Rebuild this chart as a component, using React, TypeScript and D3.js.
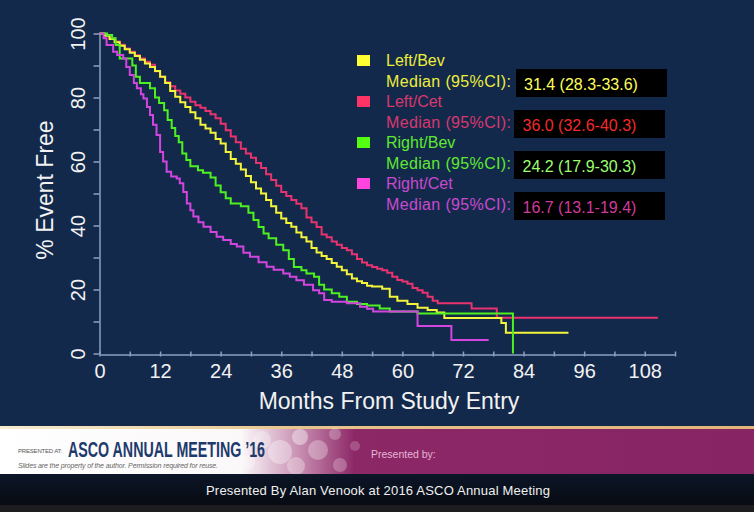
import React, { useEffect, useRef } from 'react';
import * as d3 from 'd3';

// Kaplan-Meier step points: [months, % event free]
const leftBev: [number, number][] = [
  [0, 100], [1, 99.3], [2, 98.3], [3, 97.3], [4, 96.2], [5, 95.1], [6, 94], [7, 93], [8, 91.8], [9, 90.6],
  [10, 89.5], [11, 88.3], [12, 86.5], [13, 84.5], [14, 82], [15, 80.2], [16, 78.5], [17, 77], [18, 75.4],
  [19, 73.5], [20, 71.5], [21, 70.3], [22, 69], [23, 67], [24, 65.6], [25, 63], [26, 60.8], [27, 59.3],
  [28, 57.5], [29, 55.5], [30, 53.5], [31, 51.6], [32, 50], [33, 48], [34, 46], [35, 44], [36, 42.2],
  [37, 40.8], [38, 39.6], [39, 37.8], [40, 36.3], [41, 35], [42, 33], [43, 31.6], [44, 30.5], [45, 29.5],
  [46, 28.3], [47, 27.1], [48, 26], [49, 24.8], [50, 23.4], [51, 22.6], [52, 22], [53, 21.2], [54, 20.9],
  [56, 20.2], [57.5, 17.7], [59, 16.5], [61, 15.5], [63, 14.3], [65, 13.6], [66.8, 12.8], [68.3, 11.1],
  [79.6, 9.5], [80.5, 6.5], [92.9, 6.5],
];

const leftCet: [number, number][] = [
  [0, 100], [1, 99.5], [2, 98.5], [3, 97.5], [4, 96.5], [5, 95.3], [6, 94.3], [7, 93.2], [8, 92.2], [9, 91.2],
  [10, 90.2], [11, 88.2], [12, 86.5], [13, 84.8], [14, 83.5], [15, 82.2], [16, 81.2], [17, 80], [18, 78.7],
  [19, 77.6], [20, 76.8], [21, 75.8], [22, 74.8], [23, 73.5], [24, 71.8], [25, 69.8], [26, 67.8], [27, 66],
  [28, 64], [29, 62.5], [30, 61.2], [31, 59.5], [32, 58], [33, 56], [34, 54.2], [35, 52.4], [36, 50.5],
  [37, 49.2], [38, 48], [39, 46.8], [40, 45.4], [41, 42.5], [42, 41], [43, 39.5], [44, 37.2], [45, 36.3],
  [46, 35], [47, 34], [48, 33], [49, 32.3], [50, 31], [51, 29.5], [52, 28.4], [53, 27.6], [54, 27], [55, 26.5],
  [56, 26], [57, 25.2], [58, 24], [59, 23], [60, 22.5], [61, 21.8], [62, 20.5], [63, 19.8], [64, 19],
  [65, 17.7], [66, 16.5], [67, 15.7], [73.7, 14.1], [78.7, 11.2], [110.6, 11.2],
];

const rightBev: [number, number][] = [
  [0, 100], [1.5, 99.5], [2.5, 98.5], [3.2, 96.4], [4, 92.2], [6.5, 90], [7.2, 86.5], [8, 84.5], [10, 82.9],
  [11, 80], [11.8, 78.3], [12.8, 76], [13.5, 73], [14.3, 70.5], [15, 68], [15.7, 66], [16.4, 62.5], [17.2, 60.5],
  [18, 58.5], [19.5, 57.3], [20.5, 56.5], [22, 55], [23, 52.5], [24, 50.4], [25, 48.5], [26, 46.9], [28, 46],
  [29.5, 44], [30.5, 41.7], [31.5, 39.5], [32.5, 37.5], [33.5, 36], [35, 34], [36.4, 32.3], [37.5, 29.5],
  [38.5, 27], [40, 26], [41, 25], [42.5, 24], [43.5, 21.5], [44.5, 20], [46, 18.8], [47.5, 17.7], [49, 16.2],
  [51, 15.5], [53, 15], [55.5, 14.1], [57.5, 13.1], [63, 12.5], [81.9, 0], [81.9, 0],
];

const rightCet: [number, number][] = [
  [0, 100], [0.8, 98.5], [1.4, 96.4], [2.7, 94.3], [3.5, 93.3], [4.7, 92.2], [5.3, 89.5], [6, 87], [6.8, 84.5],
  [7.4, 82.9], [8.2, 81], [8.7, 79.7], [9.4, 77], [10, 74.5], [10.6, 71.5], [11.3, 68.3], [12, 63], [12.6, 60],
  [13.3, 56.8], [14.2, 55.3], [15.3, 54.7], [15.9, 53.2], [16.6, 50.5], [17.3, 46.9], [18, 44.8], [18.6, 42.8],
  [19.6, 41], [20.6, 39.6], [22, 38], [23.2, 36.5], [24.5, 35.5], [26, 34.2], [27.2, 33.4], [28.5, 31.5],
  [29.8, 30.2], [31.5, 28.5], [33.1, 27.1], [34.5, 26.2], [36.4, 25], [37.7, 24], [39, 22.9], [40.5, 21.5],
  [42.3, 19.8], [43.5, 18.8], [44.5, 16.7], [46, 16.2], [49, 15.7], [51.6, 14.6], [53, 14], [54.2, 13.1],
  [63, 8.6], [69.7, 4.2], [77.1, 4.2],
];

const seriesNames = ['Left/Bev', 'Left/Cet', 'Right/Bev', 'Right/Cet'];
const medianLabels = ['31.4 (28.3-33.6)', '36.0 (32.6-40.3)', '24.2 (17.9-30.3)', '16.7 (13.1-19.4)'];
const xTicks = [0, 12, 24, 36, 48, 60, 72, 84, 96, 108];
const yTicks = [0, 20, 40, 60, 80, 100];

const lineColors = ['#f4f43a', '#e8336e', '#4ef020', '#d245de'];
const swatchColors = ['#ffff33', '#ff3366', '#55ff11', '#ff44e0'];
const textColors = ['#eded3c', '#d8386e', '#5fe830', '#c849cf'];
const boxTextColors = ['#ffff5a', '#f02a2a', '#9cff70', '#d03a9c'];

const W = 754;
const H = 512;
const FONT = 'Liberation Sans, Arial, sans-serif';

export default function App() {
  const ref = useRef<SVGSVGElement>(null);

  useEffect(() => {
    if (!ref.current) return;
    const svg = d3.select(ref.current);
    svg.selectAll('*').remove();

    const defs = svg.append('defs');
    const bannerGrad = defs.append('linearGradient').attr('id', 'banner').attr('x1', 0).attr('x2', 1);
    bannerGrad.append('stop').attr('offset', '0').attr('stop-color', '#ffffff');
    bannerGrad.append('stop').attr('offset', '0.32').attr('stop-color', '#fbf8fa');
    bannerGrad.append('stop').attr('offset', '0.40').attr('stop-color', '#c58aae');
    bannerGrad.append('stop').attr('offset', '0.47').attr('stop-color', '#8d2867');
    bannerGrad.append('stop').attr('offset', '1').attr('stop-color', '#862464');
    const lineGrad = defs.append('linearGradient').attr('id', 'gold').attr('x1', 0).attr('x2', 1);
    lineGrad.append('stop').attr('offset', '0').attr('stop-color', '#f6ecd0');
    lineGrad.append('stop').attr('offset', '0.4').attr('stop-color', '#e7c48c');
    lineGrad.append('stop').attr('offset', '1').attr('stop-color', '#e3b478');
    const footGrad = defs.append('linearGradient').attr('id', 'foot').attr('x1', 0).attr('x2', 0).attr('y1', 0).attr('y2', 1);
    footGrad.append('stop').attr('offset', '0').attr('stop-color', '#0c1628');
    footGrad.append('stop').attr('offset', '1').attr('stop-color', '#06080e');

    // background
    svg.append('rect').attr('width', W).attr('height', H).attr('fill', '#13294b');

    const x = d3.scaleLinear().domain([0, 114]).range([99.5, 675]);
    const y = d3.scaleLinear().domain([0, 100]).range([353.5, 33.5]);
    const axisColor = '#8d9fbf';

    // x axis
    const gx = svg.append('g').attr('transform', 'translate(0,354.5)');
    gx.call(
      d3.axisBottom(x).tickValues(d3.range(0, 115, 6)).tickSize(3).tickSizeOuter(0).tickFormat(() => '')
    );
    gx.selectAll('.tick line').attr('y1', -3).attr('y2', 2);
    gx.selectAll('path, line').attr('stroke', axisColor).attr('stroke-width', 1.5);
    const gxl = svg.append('g').attr('transform', 'translate(0,354.5)');
    gxl.call(d3.axisBottom(x).tickValues(xTicks).tickSize(0).tickPadding(9).tickFormat(d => `${d}`));
    gxl.select('.domain').remove();
    gxl.selectAll('text').attr('fill', '#f2f2f2').style('font-size', '20px').style('font-family', FONT);

    // y axis
    const gy = svg.append('g').attr('transform', 'translate(99.5,0)');
    gy.call(d3.axisLeft(y).tickValues(d3.range(0, 101, 10)).tickSize(6).tickSizeOuter(0).tickFormat(() => ''));
    gy.selectAll('path, line').attr('stroke', axisColor).attr('stroke-width', 1.5);
    const gyl = svg.append('g').attr('transform', 'translate(99.5,0)');
    gyl.call(d3.axisLeft(y).tickValues(yTicks).tickSize(0).tickFormat(d => `${d}`));
    gyl.select('.domain').remove();
    gyl.selectAll('text')
      .attr('transform', 'rotate(-90)')
      .attr('x', 0)
      .attr('y', -22)
      .attr('dy', '0.35em')
      .attr('text-anchor', 'middle')
      .attr('fill', '#f2f2f2')
      .style('font-size', '20px')
      .style('font-family', FONT);

    // axis titles
    svg.append('text')
      .attr('transform', 'translate(53,190) rotate(-90)')
      .attr('text-anchor', 'middle')
      .attr('fill', '#f2f2f2')
      .style('font-size', '23px')
      .style('font-family', FONT)
      .text('% Event Free');
    svg.append('text')
      .attr('x', 389)
      .attr('y', 409)
      .attr('text-anchor', 'middle')
      .attr('fill', '#f2f2f2')
      .style('font-size', '23px')
      .style('font-family', FONT)
      .text('Months From Study Entry');

    // curves
    const line = d3.line<[number, number]>()
      .x(d => x(d[0]))
      .y(d => y(d[1]))
      .curve(d3.curveStepAfter);
    const curves = [leftCet, leftBev, rightBev, rightCet];
    const curveColors = [lineColors[1], lineColors[0], lineColors[2], lineColors[3]];
    curves.forEach((c, i) => {
      svg.append('path')
        .datum(c)
        .attr('d', line)
        .attr('fill', 'none')
        .attr('stroke', curveColors[i])
        .attr('stroke-width', 2);
    });

    // legend
    const lg = svg.append('g');
    seriesNames.forEach((name, i) => {
      const top = i * 41;
      lg.append('rect').attr('x', 357).attr('y', 55 + top).attr('width', 13).attr('height', 11).attr('fill', swatchColors[i]);
      lg.append('text').attr('x', 386).attr('y', 66 + top).attr('fill', textColors[i])
        .style('font-size', '16px').style('font-family', FONT).text(name);
      lg.append('text').attr('x', 386).attr('y', 87 + top).attr('fill', textColors[i])
        .style('font-size', '16px').style('font-family', FONT).attr('textLength', 125).text('Median (95%CI):');
      lg.append('rect').attr('x', i === 0 ? 516 : 514).attr('y', 69 + top).attr('width', 151).attr('height', 28).attr('fill', '#000');
      lg.append('text').attr('x', i === 0 ? 524 : 522.5).attr('y', 89.5 + top).attr('fill', boxTextColors[i])
        .style('font-size', '16px').style('font-family', FONT).text(medianLabels[i]);
    });

    // banner
    svg.append('rect').attr('x', 0).attr('y', 426).attr('width', W).attr('height', 3).attr('fill', 'url(#gold)');
    svg.append('rect').attr('x', 0).attr('y', 429).attr('width', W).attr('height', 45).attr('fill', 'url(#banner)');
    const bubbles = [
      [262, 440, 9, 0.3], [280, 452, 12, 0.35], [300, 437, 8, 0.4], [296, 466, 9, 0.3], [318, 450, 10, 0.3],
      [335, 434, 6, 0.25], [340, 465, 7, 0.25], [355, 446, 5, 0.2], [248, 462, 7, 0.25],
    ];
    bubbles.forEach(([cx, cy, r, o]) => {
      svg.append('circle').attr('cx', cx).attr('cy', cy).attr('r', r).attr('fill', '#ffffff').attr('opacity', o);
    });
    svg.append('text').attr('x', 18).attr('y', 453).attr('fill', '#555').style('font-size', '6px')
      .style('font-family', FONT).attr('textLength', 44).text('PRESENTED AT:');
    svg.append('text').attr('x', 68).attr('y', 457).attr('fill', '#1c3a6c').style('font-size', '22px')
      .style('font-weight', 'bold')
      .style('font-family', 'Liberation Sans Narrow, Arial Narrow, sans-serif')
      .attr('textLength', 197).attr('lengthAdjust', 'spacingAndGlyphs').text('ASCO ANNUAL MEETING \u201916');
    svg.append('text').attr('x', 18).attr('y', 468).attr('fill', '#666').style('font-size', '7px')
      .style('font-style', 'italic').style('font-family', FONT).attr('textLength', 200)
      .text('Slides are the property of the author. Permission required for reuse.');
    svg.append('text').attr('x', 371).attr('y', 458).attr('fill', '#e4b6d6').style('font-size', '10.5px')
      .style('font-family', FONT).text('Presented by:');

    // footer
    svg.append('rect').attr('x', 0).attr('y', 474).attr('width', W).attr('height', 38).attr('fill', 'url(#foot)');
    svg.append('rect').attr('x', 0).attr('y', 505).attr('width', W).attr('height', 7).attr('fill', '#1d1d1f');
    svg.append('text').attr('x', 378).attr('y', 495).attr('text-anchor', 'middle').attr('fill', '#f0f0f0')
      .style('font-size', '13px').style('font-family', FONT).attr('textLength', 344)
      .text('Presented By Alan Venook at 2016 ASCO Annual Meeting');
  }, []);

  return (
    <svg
      ref={ref}
      width={W}
      height={H}
      style={{ position: 'absolute', left: 0, top: 0, display: 'block' }}
    />
  );
}
